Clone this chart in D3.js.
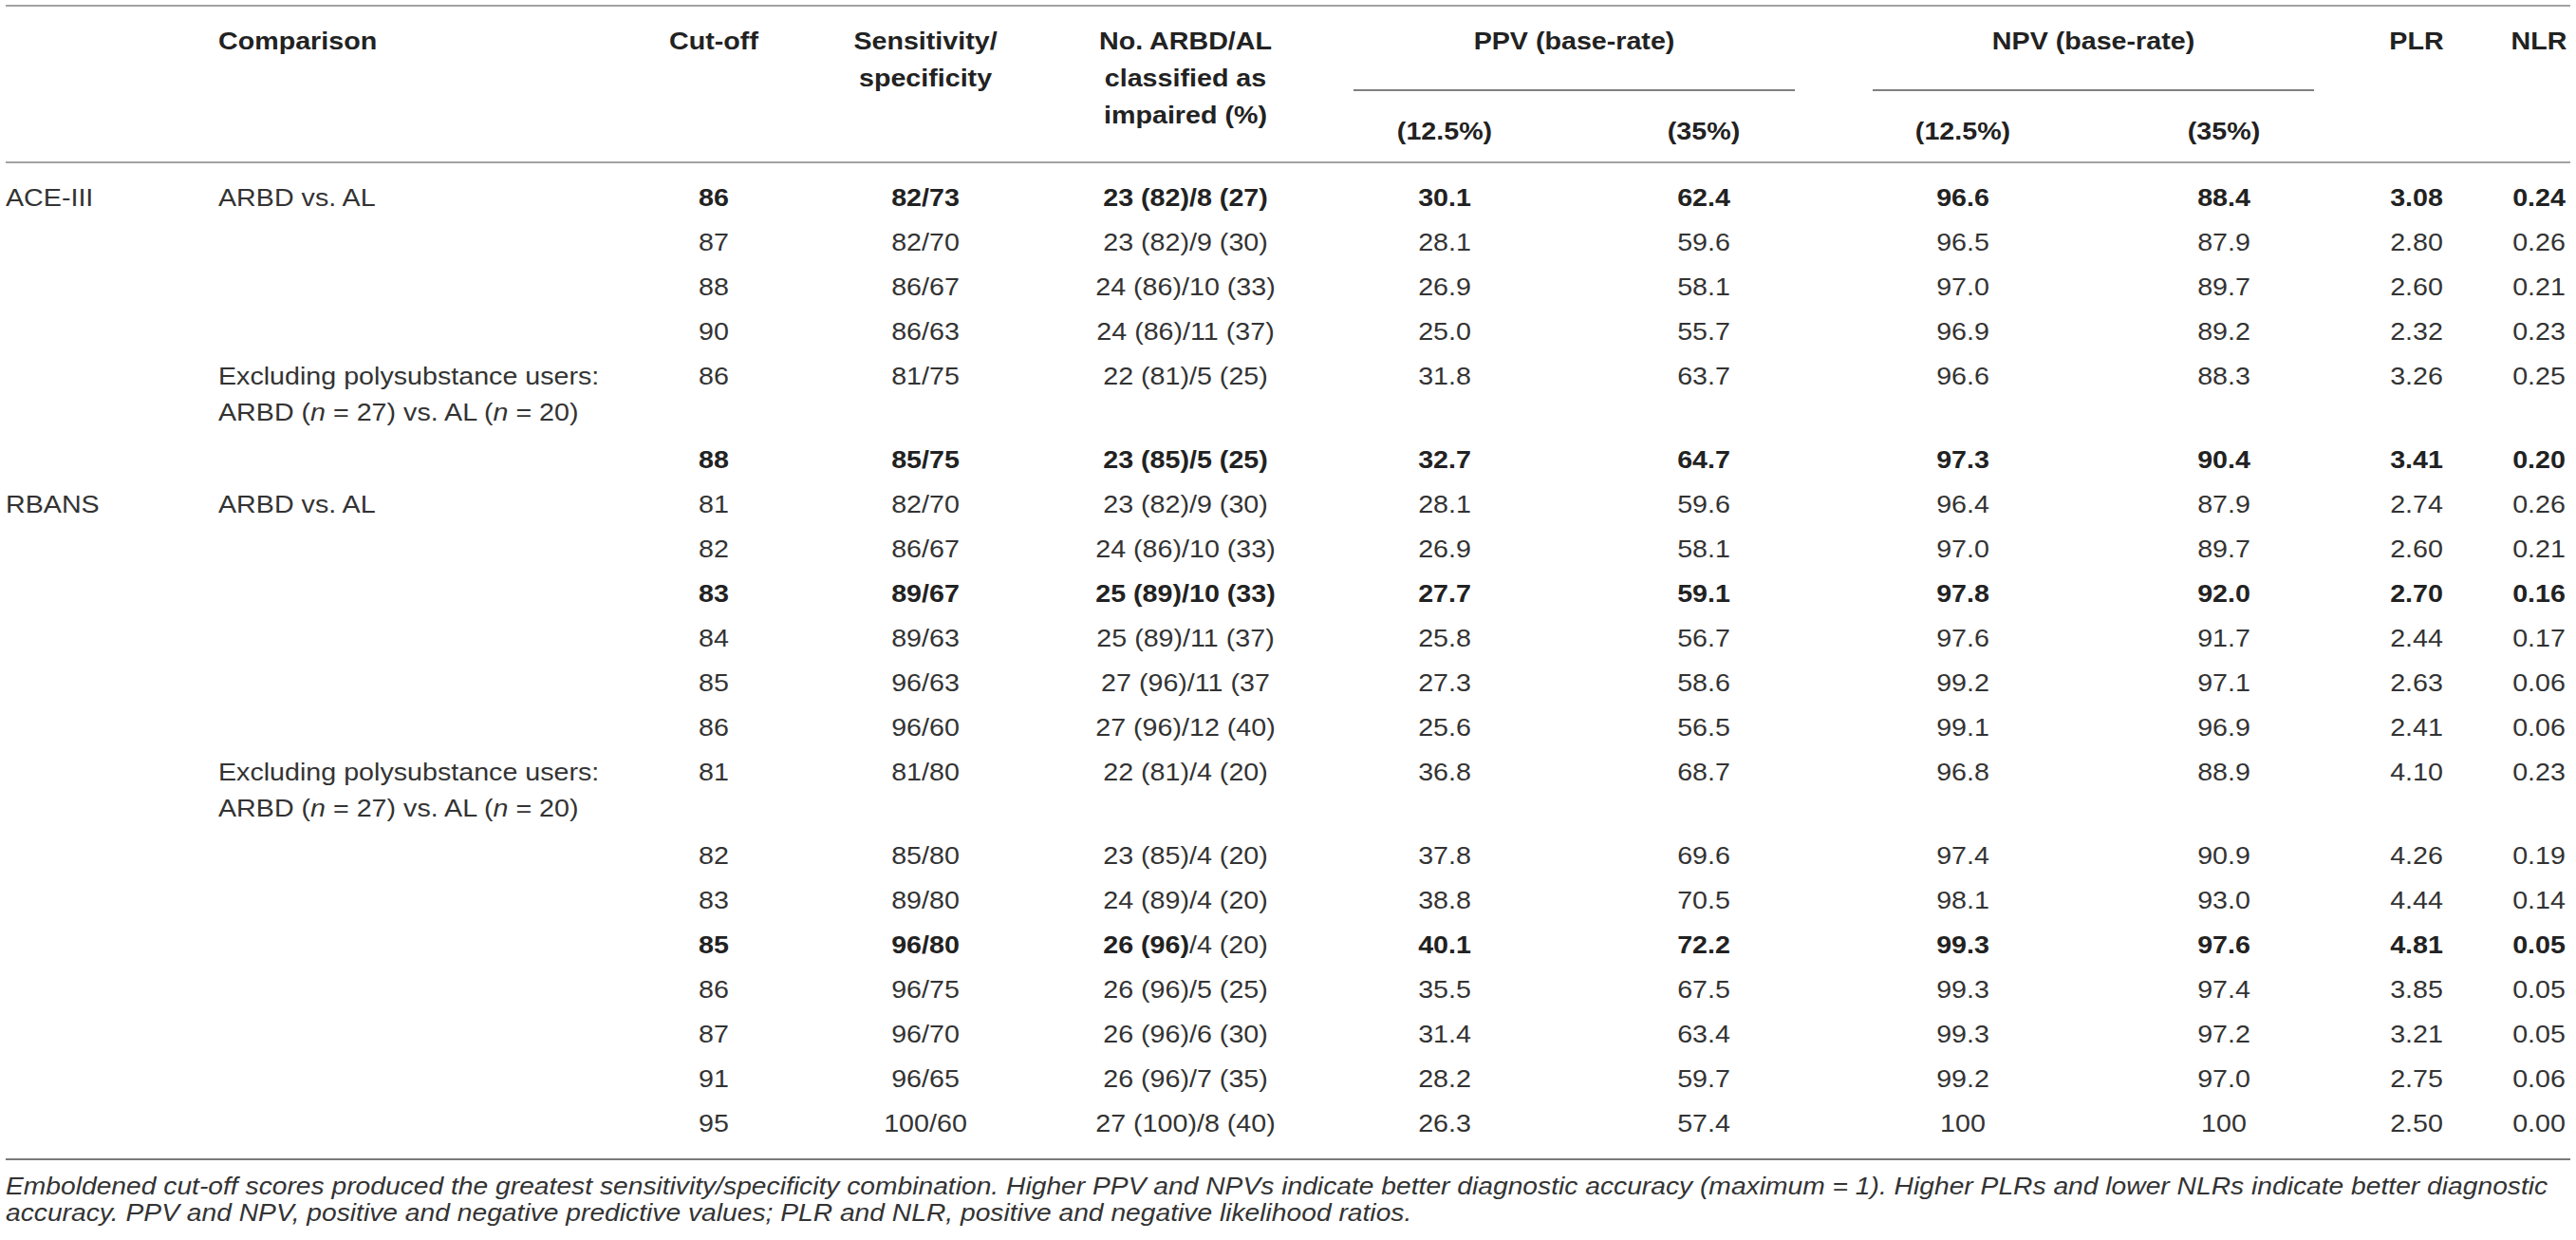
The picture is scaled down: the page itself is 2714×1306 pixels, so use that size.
<!DOCTYPE html>
<html>
<head>
<meta charset="utf-8">
<script src="https://cdn.jsdelivr.net/npm/d3@7"></script>
<style>
  html, body { margin: 0; padding: 0; background: #fff; }
  svg { display: block; }
  text { font-family: "Liberation Sans", Arial, Helvetica, sans-serif; }
</style>
</head>
<body>
<svg id="tbl" width="2714" height="1306"></svg>
<script>
// table values, one array per column
var testNames = ["ACE-III", "", "", "", "", "", "RBANS", "", "", "", "", "", "", "", "", "", "", "", "", ""];
var comparisons = ["ARBD vs. AL", "", "", "", "excl", "", "ARBD vs. AL", "", "", "", "", "", "excl", "", "", "", "", "", "", ""];
var cutoffs = ["86", "87", "88", "90", "86", "88", "81", "82", "83", "84", "85", "86", "81", "82", "83", "85", "86", "87", "91", "95"];
var sensSpec = ["82/73", "82/70", "86/67", "86/63", "81/75", "85/75", "82/70", "86/67", "89/67", "89/63",
  "96/63", "96/60", "81/80", "85/80", "89/80", "96/80", "96/75", "96/70", "96/65", "100/60"];
var classified = ["23 (82)/8 (27)", "23 (82)/9 (30)", "24 (86)/10 (33)", "24 (86)/11 (37)", "22 (81)/5 (25)",
  "23 (85)/5 (25)", "23 (82)/9 (30)", "24 (86)/10 (33)", "25 (89)/10 (33)", "25 (89)/11 (37)",
  "27 (96)/11 (37", "27 (96)/12 (40)", "22 (81)/4 (20)", "23 (85)/4 (20)", "24 (89)/4 (20)",
  "26 (96)|/4 (20)", "26 (96)/5 (25)", "26 (96)/6 (30)", "26 (96)/7 (35)", "27 (100)/8 (40)"];
var ppv125 = ["30.1", "28.1", "26.9", "25.0", "31.8", "32.7", "28.1", "26.9", "27.7", "25.8",
  "27.3", "25.6", "36.8", "37.8", "38.8", "40.1", "35.5", "31.4", "28.2", "26.3"];
var ppv35 = ["62.4", "59.6", "58.1", "55.7", "63.7", "64.7", "59.6", "58.1", "59.1", "56.7",
  "58.6", "56.5", "68.7", "69.6", "70.5", "72.2", "67.5", "63.4", "59.7", "57.4"];
var npv125 = ["96.6", "96.5", "97.0", "96.9", "96.6", "97.3", "96.4", "97.0", "97.8", "97.6",
  "99.2", "99.1", "96.8", "97.4", "98.1", "99.3", "99.3", "99.3", "99.2", "100"];
var npv35 = ["88.4", "87.9", "89.7", "89.2", "88.3", "90.4", "87.9", "89.7", "92.0", "91.7",
  "97.1", "96.9", "88.9", "90.9", "93.0", "97.6", "97.4", "97.2", "97.0", "100"];
var plr = ["3.08", "2.80", "2.60", "2.32", "3.26", "3.41", "2.74", "2.60", "2.70", "2.44",
  "2.63", "2.41", "4.10", "4.26", "4.44", "4.81", "3.85", "3.21", "2.75", "2.50"];
var nlr = ["0.24", "0.26", "0.21", "0.23", "0.25", "0.20", "0.26", "0.21", "0.16", "0.17",
  "0.06", "0.06", "0.23", "0.19", "0.14", "0.05", "0.05", "0.05", "0.06", "0.00"];
var boldRows = [0, 5, 8, 15];
var footnote = [
  "Emboldened cut-off scores produced the greatest sensitivity/specificity combination. Higher PPV and NPVs indicate better diagnostic accuracy (maximum = 1). Higher PLRs and lower NLRs indicate better diagnostic",
  "accuracy. PPV and NPV, positive and negative predictive values; PLR and NLR, positive and negative likelihood ratios."
];

var svg = d3.select('#tbl');
var FS = 25.6, SX = 1.12;
var normalColor = "#333", boldColor = "#222";

// centred numeric columns
var colKeys = ["cut", "sens", "cls", "p1", "p2", "n1", "n2", "plr", "nlr"];
var colX = d3.scaleOrdinal().domain(colKeys).range([752, 975, 1249, 1522, 1795, 2068, 2343, 2546, 2675]);
var colData = { cut: cutoffs, sens: sensSpec, cls: classified, p1: ppv125, p2: ppv35, n1: npv125, n2: npv35, plr: plr, nlr: nlr };

// row positions: wrapped rows take an extra 0.87 of a row
var units = [], u = 0;
comparisons.forEach(function(c) {
  units.push(u);
  u += (c === "excl") ? 1.87 : 1;
});
var y = d3.scaleLinear().domain([0, 1]).range([217, 264]);

function addText(g, x, yy, anchor, weight, color, size) {
  return g.append('text')
    .attr('transform', 'translate(' + x + ',' + yy + ') scale(' + SX + ',1)')
    .attr('text-anchor', anchor)
    .attr('font-weight', weight)
    .attr('font-size', (size || FS) + 'px')
    .attr('fill', color);
}

// rules
function rule(x1, x2, yy, color) {
  svg.append('line').attr('x1', x1).attr('x2', x2).attr('y1', yy).attr('y2', yy)
    .attr('stroke', color).attr('stroke-width', 2);
}
rule(6, 2708, 6, "#a3a3a3");
rule(6, 2708, 171, "#a3a3a3");
rule(6, 2708, 1221, "#7a7a7a");
rule(1426, 1891, 95, "#7f7f7f");
rule(1973, 2438, 95, "#7f7f7f");

// header
var head = svg.append('g');
addText(head, 230, 52, 'start', 'bold', boldColor).text("Comparison");
addText(head, colX("cut"), 52, 'middle', 'bold', boldColor).text("Cut-off");
addText(head, colX("sens"), 52, 'middle', 'bold', boldColor).text("Sensitivity/");
addText(head, colX("sens"), 91, 'middle', 'bold', boldColor).text("specificity");
addText(head, colX("cls"), 52, 'middle', 'bold', boldColor).text("No. ARBD/AL");
addText(head, colX("cls"), 91, 'middle', 'bold', boldColor).text("classified as");
addText(head, colX("cls"), 130, 'middle', 'bold', boldColor).text("impaired (%)");
addText(head, (colX("p1") + colX("p2")) / 2, 52, 'middle', 'bold', boldColor).text("PPV (base-rate)");
addText(head, (colX("n1") + colX("n2")) / 2, 52, 'middle', 'bold', boldColor).text("NPV (base-rate)");
addText(head, colX("p1"), 147, 'middle', 'bold', boldColor).text("(12.5%)");
addText(head, colX("p2"), 147, 'middle', 'bold', boldColor).text("(35%)");
addText(head, colX("n1"), 147, 'middle', 'bold', boldColor).text("(12.5%)");
addText(head, colX("n2"), 147, 'middle', 'bold', boldColor).text("(35%)");
addText(head, colX("plr"), 52, 'middle', 'bold', boldColor).text("PLR");
addText(head, colX("nlr"), 52, 'middle', 'bold', boldColor).text("NLR");

// body
var body = svg.append('g');
cutoffs.forEach(function(d, i) {
  var yy = y(units[i]);
  var isBold = boldRows.indexOf(i) >= 0;
  if (testNames[i]) addText(body, 6, yy, 'start', 'normal', normalColor).text(testNames[i]);
  if (comparisons[i] === "excl") {
    addText(body, 230, yy, 'start', 'normal', normalColor).text("Excluding polysubstance users:");
    var t2 = addText(body, 230, yy + 38, 'start', 'normal', normalColor);
    t2.append('tspan').text("ARBD (");
    t2.append('tspan').attr('font-style', 'italic').text("n");
    t2.append('tspan').text(" = 27) vs. AL (");
    t2.append('tspan').attr('font-style', 'italic').text("n");
    t2.append('tspan').text(" = 20)");
  } else if (comparisons[i]) {
    addText(body, 230, yy, 'start', 'normal', normalColor).text(comparisons[i]);
  }
  colKeys.forEach(function(k) {
    var v = colData[k][i];
    var t = addText(body, colX(k), yy, 'middle', isBold ? 'bold' : 'normal', isBold ? boldColor : normalColor);
    if (v.indexOf('|') >= 0) {
      var parts = v.split('|');
      t.append('tspan').text(parts[0]);
      t.append('tspan').attr('font-weight', 'normal').attr('fill', normalColor).text(parts[1]);
    } else {
      t.text(v);
    }
  });
});

// footnote
footnote.forEach(function(line, i) {
  addText(svg, 6, 1258 + i * 28, 'start', 'normal', normalColor, 25.2)
    .attr('font-style', 'italic')
    .text(line);
});
</script>
</body>
</html>
